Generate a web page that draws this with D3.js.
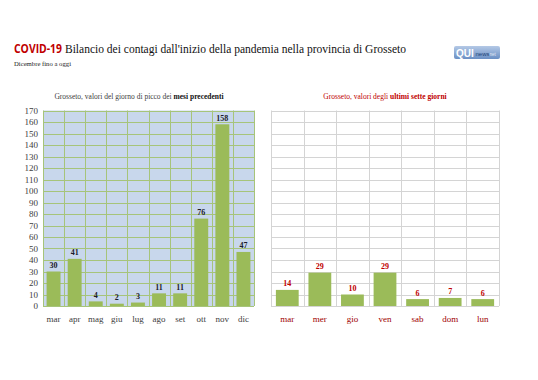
<!DOCTYPE html>
<html><head><meta charset="utf-8">
<script src="https://cdn.jsdelivr.net/npm/d3@7"></script>
<style>body{margin:0;background:#fff}svg{display:block}</style>
</head><body>
<script>
const monthCats = ["mar","apr","mag","giu","lug","ago","set","ott","nov","dic"];
const monthVals = [30,41,4,2,3,11,11,76,158,47];
const dayCats = ["mar","mer","gio","ven","sab","dom","lun"];
const dayVals = [14,29,10,29,6,7,6];
const yTicks = d3.range(0,171,10);

const W=538,H=380;
const svg=d3.select("body").append("svg").attr("width",W).attr("height",H);
const serif="Liberation Serif, Times New Roman, serif";

// Title
svg.append("text").attr("x",14).attr("y",53).attr("font-family","Open Sans, Liberation Sans, sans-serif")
  .attr("font-weight","bold").attr("fill","#c00000").attr("font-size",12)
  .attr("textLength",48).attr("lengthAdjust","spacingAndGlyphs").text("COVID-19");
svg.append("text").attr("x",65).attr("y",53).attr("font-family",serif).attr("font-size",13).attr("fill","#111")
  .attr("textLength",341).attr("lengthAdjust","spacingAndGlyphs")
  .text("Bilancio dei contagi dall'inizio della pandemia nella provincia di Grosseto");
svg.append("text").attr("x",14).attr("y",66).attr("font-family",serif).attr("font-size",7).attr("fill","#222")
  .attr("textLength",57).attr("lengthAdjust","spacingAndGlyphs").text("Dicembre fino a oggi");

// logo
const lg=svg.append("g").attr("transform","translate(454,46)");
const grad=svg.append("defs").append("linearGradient").attr("id","lg").attr("x1",0).attr("y1",0).attr("x2",0).attr("y2",1);
grad.append("stop").attr("offset",0).attr("stop-color","#b4c9e6");
grad.append("stop").attr("offset",1).attr("stop-color","#6a8fc4");
lg.append("rect").attr("width",46).attr("height",13).attr("rx",2).attr("fill","url(#lg)");
lg.append("text").attr("x",2).attr("y",10.5).attr("font-family","Liberation Sans, sans-serif").attr("font-weight","bold").attr("font-size",10).attr("fill","#fff").text("QUI");
lg.append("text").attr("x",21.5).attr("y",9.5).attr("font-family","Liberation Sans, sans-serif").attr("font-size",6).attr("fill","#1d3f75").text("news");
lg.append("text").attr("x",35.5).attr("y",9.5).attr("font-family","Liberation Sans, sans-serif").attr("font-size",4.5).attr("fill","#e0e8f4").text("net");

const y=d3.scaleLinear().domain([0,170]).range([306,110.5]);

function panel(cats,vals,x0,x1,opts){
  const g=svg.append("g");
  const x=d3.scaleBand().domain(cats).range([x0,x1]).paddingInner(opts.pad).paddingOuter(opts.pad/2);
  const step=x.step();
  g.append("rect").attr("x",x0).attr("y",y(170)).attr("width",x1-x0).attr("height",y(0)-y(170)).attr("fill",opts.bg);
  g.selectAll(".hg").data(yTicks).join("line")
    .attr("x1",x0).attr("x2",x1).attr("y1",d=>Math.round(y(d))+0.5).attr("y2",d=>Math.round(y(d))+0.5)
    .attr("stroke",opts.grid).attr("stroke-width",1);
  g.selectAll(".vg").data(d3.range(cats.length+1)).join("line")
    .attr("x1",i=>Math.round(x0+i*step)+0.5).attr("x2",i=>Math.round(x0+i*step)+0.5)
    .attr("y1",y(170)).attr("y2",y(0)).attr("stroke",opts.grid).attr("stroke-width",1);
  g.selectAll(".bar").data(vals).join("rect")
    .attr("x",(d,i)=>x(cats[i])).attr("width",x.bandwidth())
    .attr("y",d=>y(d)).attr("height",d=>y(0)-y(d)).attr("fill","#9bbb59");
  g.selectAll(".vl").data(vals).join("text")
    .attr("x",(d,i)=>x(cats[i])+x.bandwidth()/2).attr("y",d=>y(d)-3.5)
    .attr("text-anchor","middle").attr("font-family",serif).attr("font-weight","bold").attr("font-size",8)
    .attr("fill",opts.lab).text(d=>d);
  const xa=g.append("g").attr("transform","translate(0,306)").call(d3.axisBottom(x).tickSize(0).tickPadding(10));
  xa.select(".domain").remove();
  xa.selectAll("text").attr("font-family",serif).attr("font-size",9).attr("fill",opts.xcol);
  if(opts.yaxis){
    const ya=g.append("g").attr("transform",`translate(${x0},0)`).call(d3.axisLeft(y).tickValues(yTicks).tickSize(0).tickPadding(5));
    ya.select(".domain").remove();
    ya.selectAll("text").attr("font-family",serif).attr("font-size",9).attr("fill","#404040");
  }
  return x;
}

panel(monthCats,monthVals,43,254,{pad:0.34,bg:"#c8d7ec",grid:"#a6c47a",lab:"#1a1a2a",xcol:"#404040",yaxis:true});
panel(dayCats,dayVals,271,499,{pad:0.3,bg:"#ffffff",grid:"#d4d4d4",lab:"#c00000",xcol:"#a00000",yaxis:false});

// panel titles
const p1=svg.append("text").attr("x",139).attr("y",99).attr("text-anchor","middle").attr("font-family",serif).attr("font-size",7.5).attr("fill","#404040");
p1.append("tspan").text("Grosseto, valori del giorno di picco dei ");
p1.append("tspan").attr("font-weight","bold").attr("fill","#111").text("mesi precedenti");
const p2=svg.append("text").attr("x",385).attr("y",99).attr("text-anchor","middle").attr("font-family",serif).attr("font-size",7.5).attr("fill","#c00000");
p2.append("tspan").text("Grosseto, valori degli ");
p2.append("tspan").attr("font-weight","bold").text("ultimi sette giorni");
</script>
</body></html>
